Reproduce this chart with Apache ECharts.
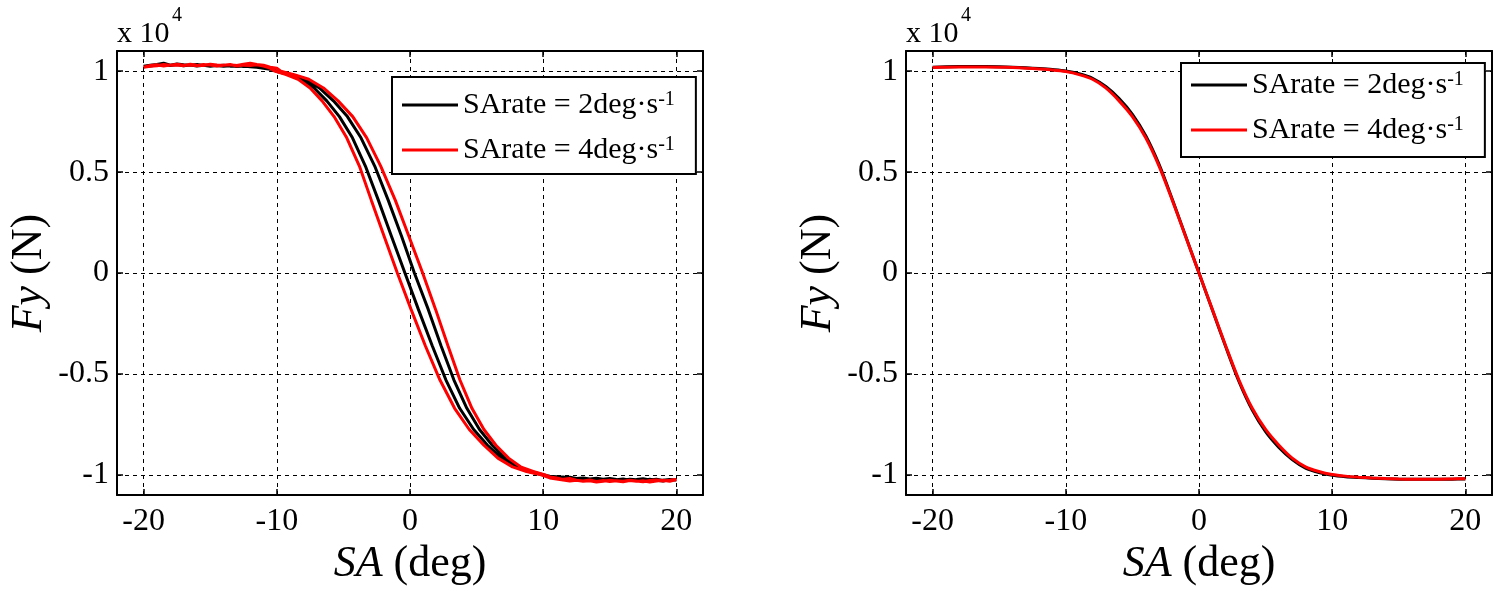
<!DOCTYPE html>
<html>
<head>
<meta charset="utf-8">
<script src="https://cdn.jsdelivr.net/npm/echarts@6/dist/echarts.min.js"></script>
<style>
html,body{margin:0;padding:0;background:#fff;}
#chart{width:1494px;height:591px;}
</style>
</head>
<body>
<div id="chart"></div>
<script>
// ---------- DATA ----------
const legendNames = ['SArate = 2deg·s-1', 'SArate = 4deg·s-1'];
const xAxisName = '{i|SA} (deg)';
const yAxisName = '{i|Fy} (N)';
const scaleText = 'x 10';
const scaleExp = '4';

// Left plot: hysteresis loops [SA (deg), Fy (N)]
const leftBlackDown = [[-20,10220],[-19.5,10260],[-19,10300],[-18.5,10350],[-18,10280],[-17.5,10330],[-17,10270],[-16.5,10300],[-16,10260],[-15.5,10290],[-15,10250],[-14.5,10280],[-14,10240],[-13.5,10270],[-13,10230],[-12.5,10260],[-12,10220],[-11.5,10200],[-11,10150],[-10.5,10100],[-9.95,10000],[-8.9,9830],[-7.85,9600],[-6.8,9170],[-5.75,8530],[-4.7,7750],[-3.68,6700],[-2.65,5300],[-1.63,3600],[-0.62,1800],[0.33,0],[1.37,-1800],[2.33,-3600],[3.3,-5300],[4.27,-6700],[5.22,-7750],[6.18,-8530],[7.15,-9170],[8.1,-9600],[9.08,-9830],[10.05,-10000],[10.5,-10080],[11,-10120],[11.5,-10100],[12,-10160],[12.5,-10200],[13,-10170],[13.5,-10220],[14,-10190],[14.5,-10250],[15,-10210],[15.5,-10240],[16,-10200],[16.5,-10260],[17,-10230],[17.5,-10190],[18,-10250],[18.5,-10220],[19,-10270],[19.5,-10230],[20,-10250]];
const leftBlackUp = [[20,-10280],[19.5,-10240],[19,-10300],[18.5,-10260],[18,-10220],[17.5,-10270],[17,-10240],[16.5,-10210],[16,-10260],[15.5,-10230],[15,-10180],[14.5,-10220],[14,-10170],[13.5,-10200],[13,-10150],[12.5,-10180],[12,-10120],[11.5,-10150],[11,-10090],[10.5,-10060],[9.95,-10000],[8.92,-9830],[7.9,-9600],[6.85,-9170],[5.82,-8530],[4.78,-7750],[3.73,-6700],[2.7,-5300],[1.67,-3600],[0.63,-1800],[-0.38,0],[-1.38,1800],[-2.37,3600],[-3.35,5300],[-4.32,6700],[-5.3,7750],[-6.25,8530],[-7.2,9170],[-8.15,9600],[-9.1,9830],[-10.05,10000],[-10.5,10120],[-11,10180],[-11.5,10220],[-12,10260],[-12.5,10230],[-13,10280],[-13.5,10250],[-14,10300],[-14.5,10270],[-15,10310],[-15.5,10280],[-16,10330],[-16.5,10290],[-17,10320],[-17.5,10360],[-18,10300],[-18.5,10400],[-19,10330],[-19.5,10290],[-20,10240]];
const leftRedDown = [[-20,10200],[-19.5,10280],[-19,10320],[-18.5,10260],[-18,10300],[-17.5,10350],[-17,10290],[-16.5,10310],[-16,10270],[-15.5,10330],[-15,10300],[-14.5,10260],[-14,10290],[-13.5,10320],[-13,10280],[-12.5,10350],[-12,10400],[-11.5,10330],[-11,10300],[-10.5,10200],[-10,10150],[-9.7,10000],[-8.7,9830],[-7.6,9600],[-6.5,9170],[-5.4,8530],[-4.3,7750],[-3.25,6700],[-2.2,5300],[-1.1,3600],[-0.07,1800],[0.95,0],[1.92,-1800],[2.85,-3600],[3.75,-5300],[4.65,-6700],[5.55,-7750],[6.45,-8530],[7.4,-9170],[8.3,-9600],[9.25,-9830],[10.15,-10000],[10.5,-10100],[11,-10150],[11.5,-10220],[12,-10180],[12.5,-10260],[13,-10300],[13.5,-10250],[14,-10320],[14.5,-10280],[15,-10330],[15.5,-10290],[16,-10310],[16.5,-10260],[17,-10300],[17.5,-10340],[18,-10280],[18.5,-10250],[19,-10300],[19.5,-10270],[20,-10230]];
const leftRedUp = [[20,-10280],[19.5,-10320],[19,-10260],[18.5,-10300],[18,-10350],[17.5,-10290],[17,-10320],[16.5,-10280],[16,-10340],[15.5,-10300],[15,-10260],[14.5,-10310],[14,-10350],[13.5,-10290],[13,-10320],[12.5,-10260],[12,-10300],[11.5,-10250],[11,-10200],[10.5,-10150],[9.85,-10000],[8.75,-9830],[7.7,-9600],[6.6,-9170],[5.55,-8530],[4.45,-7750],[3.35,-6700],[2.25,-5300],[1.15,-3600],[0.08,-1800],[-0.95,0],[-1.93,1800],[-2.9,3600],[-3.8,5300],[-4.75,6700],[-5.7,7750],[-6.6,8530],[-7.5,9170],[-8.4,9600],[-9.3,9830],[-10.15,10000],[-10.5,10150],[-11,10250],[-11.5,10320],[-12,10280],[-12.5,10300],[-13,10260],[-13.5,10330],[-14,10290],[-14.5,10310],[-15,10350],[-15.5,10280],[-16,10300],[-16.5,10340],[-17,10270],[-17.5,10310],[-18,10290],[-18.5,10330],[-19,10270],[-19.5,10240],[-20,10200]];

// Right plot
const rightX = [-20,-19,-18,-17,-16,-15,-14,-13,-12,-11,-10,-9,-8,-7,-6,-5,-4,-3,-2,-1,0,1,2,3,4,5,6,7,8,9,10,11,12,13,14,15,16,17,18,19,20];
const rightBlack = [10200,10220,10230,10230,10230,10220,10200,10170,10130,10080,10010,9870,9650,9240,8640,7860,6800,5380,3640,1820,0,-1820,-3640,-5370,-6790,-7860,-8640,-9240,-9660,-9880,-10020,-10090,-10130,-10160,-10190,-10210,-10220,-10220,-10220,-10210,-10200];
const rightRed = [10180,10200,10210,10210,10210,10200,10180,10150,10110,10060,9980,9830,9600,9170,8530,7750,6700,5300,3600,1800,0,-1800,-3600,-5300,-6700,-7750,-8530,-9170,-9600,-9830,-9980,-10060,-10110,-10150,-10180,-10200,-10210,-10210,-10210,-10200,-10190];

// ---------- STYLE ----------
const FONT = '"Liberation Serif", "Times New Roman", serif';
const BLACK = '#000000';
const RED = '#ff0000';

function xAxisCfg(gi, pos) {
  const bottom = pos === 'bottom';
  return {
    type: 'value', gridIndex: gi, position: pos, min: -22, max: 22, splitNumber: 4,
    axisLine: {show: true, onZero: false, lineStyle: {color: BLACK, width: 2}},
    axisTick: {show: true, inside: true, length: 6, lineStyle: {color: BLACK, width: 1.5}},
    axisLabel: bottom ? {
      show: true, margin: 10, color: BLACK, fontFamily: FONT, fontSize: 32, lineHeight: 32,
      showMinLabel: false, showMaxLabel: false,
      formatter: v => (Math.abs(v) % 10 === 0 ? String(v) : '')
    } : {show: false},
    splitLine: bottom ? {show: true, lineStyle: {color: BLACK, width: 1, type: [4, 4]}} : {show: false},
    name: bottom ? xAxisName : '',
    nameLocation: 'middle', nameGap: 43,
    nameTextStyle: {color: BLACK, fontFamily: FONT, fontSize: 44, lineHeight: 44,
      rich: {i: {fontStyle: 'italic', fontFamily: FONT, fontSize: 44, lineHeight: 44, color: BLACK}}}
  };
}
function yAxisCfg(gi, pos) {
  const left = pos === 'left';
  return {
    type: 'value', gridIndex: gi, position: pos, min: -11000, max: 11000, splitNumber: 4,
    axisLine: {show: true, onZero: false, lineStyle: {color: BLACK, width: 2}},
    axisTick: {show: true, inside: true, length: 6, lineStyle: {color: BLACK, width: 1.5}},
    axisLabel: left ? {
      show: true, margin: 8, color: BLACK, fontFamily: FONT, fontSize: 32, lineHeight: 32,
      showMinLabel: false, showMaxLabel: false,
      formatter: v => (Math.abs(v) % 5000 === 0 ? String(v / 10000) : '')
    } : {show: false},
    splitLine: left ? {show: true, lineStyle: {color: BLACK, width: 1, type: [4, 4]}} : {show: false},
    name: left ? yAxisName : '',
    nameLocation: 'middle', nameGap: 66,
    nameTextStyle: {color: BLACK, fontFamily: FONT, fontSize: 44, lineHeight: 44,
      rich: {i: {fontStyle: 'italic', fontFamily: FONT, fontSize: 44, lineHeight: 44, color: BLACK}}}
  };
}
function legendCfg(left, top, padding) {
  return {
    data: legendNames.map(n => ({name: n, icon: 'rect'})),
    orient: 'vertical', left: left, top: top,
    backgroundColor: '#ffffff', borderColor: BLACK, borderWidth: 2, padding: padding,
    itemGap: 15, itemWidth: 56, itemHeight: 3,
    formatter: n => n.replace(/-1$/, '{sup|-1}'),
    textStyle: {color: BLACK, fontFamily: FONT, fontSize: 30, lineHeight: 30,
      rich: {sup: {fontFamily: FONT, fontSize: 20, lineHeight: 24, verticalAlign: 'top', color: BLACK}}},
    selectedMode: false
  };
}
function lineSeries(name, data, xi, yi, color, smooth) {
  return {
    name: name, type: 'line', data: data, xAxisIndex: xi, yAxisIndex: yi,
    showSymbol: false, symbol: 'none', smooth: smooth,
    lineStyle: {color: color, width: 3}, itemStyle: {color: color},
    emphasis: {disabled: true}, animation: false
  };
}

const chart = echarts.init(document.getElementById('chart'), null, {renderer: 'canvas'});
chart.setOption({
  backgroundColor: '#ffffff',
  animation: false,
  grid: [
    {left: 117, top: 51, width: 586, height: 446},
    {left: 906, top: 51, width: 586, height: 446}
  ],
  xAxis: [xAxisCfg(0, 'bottom'), xAxisCfg(0, 'top'), xAxisCfg(1, 'bottom'), xAxisCfg(1, 'top')],
  yAxis: [yAxisCfg(0, 'left'), yAxisCfg(0, 'right'), yAxisCfg(1, 'left'), yAxisCfg(1, 'right')],
  legend: [legendCfg(392, 77, [13, 21, 9, 10]), legendCfg(1181, 63, [7, 21, 12, 10])],
  graphic: [
    {type: 'text', left: 117, top: 19, style: {text: scaleText, font: '30px ' + FONT, fill: BLACK}},
    {type: 'text', left: 172, top: 6, style: {text: scaleExp, font: '20px ' + FONT, fill: BLACK}},
    {type: 'text', left: 906, top: 19, style: {text: scaleText, font: '30px ' + FONT, fill: BLACK}},
    {type: 'text', left: 961, top: 6, style: {text: scaleExp, font: '20px ' + FONT, fill: BLACK}}
  ],
  series: [
    lineSeries(legendNames[0], leftBlackDown.concat(leftBlackUp), 0, 0, BLACK, false),
    lineSeries(legendNames[1], leftRedDown.concat(leftRedUp), 0, 0, RED, false),
    lineSeries(legendNames[0], rightX.map((x, i) => [x, rightBlack[i]]), 2, 2, BLACK, 0.3),
    lineSeries(legendNames[1], rightX.map((x, i) => [x, rightRed[i]]), 2, 2, RED, 0.3)
  ]
});
</script>
</body>
</html>
